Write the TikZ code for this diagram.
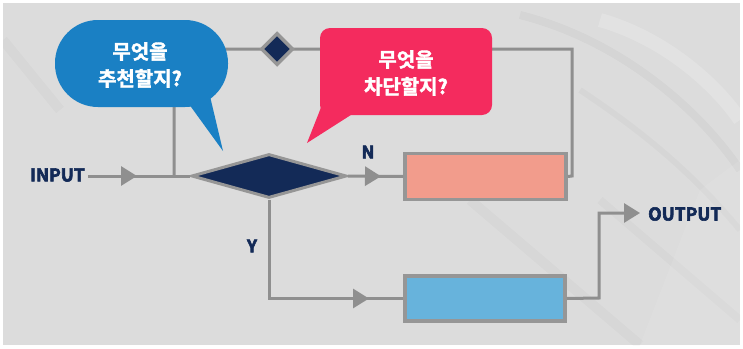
\documentclass[tikz,border=0pt]{standalone}
\usepackage{fontspec}
\setmainfont{Noto Sans CJK KR}[BoldFont={Noto Sans CJK KR Bold}]
\newfontfamily\heavy{Noto Sans CJK KR Bold}
\newfontfamily\bub{Noto Sans CJK KR Bold}
\newcommand\fatten[2]{\special{pdf:literal 2 Tr #1 w}#2\special{pdf:literal 0 Tr 1 w}}
\usetikzlibrary{shapes.geometric,arrows.meta,decorations.markings}
\definecolor{bg}{HTML}{DCDCDC}
\definecolor{navy}{HTML}{132A57}
\definecolor{lgray}{HTML}{8F8F8F}
\definecolor{bgray}{HTML}{969696}
\definecolor{salmon}{HTML}{F29C8C}
\definecolor{sky}{HTML}{67B3DC}
\definecolor{bblue}{HTML}{1A80C4}
\definecolor{bpink}{HTML}{F42B5E}
\tikzset{
  lab/.style={font=\heavy\fontsize{17.5}{18}\selectfont, text=navy, inner sep=0pt},
  yn/.style={font=\heavy\fontsize{17}{18}\selectfont, text=navy, inner sep=0pt},
  flow/.style={draw=lgray, line width=3pt},
  tipstyle/.style={-{Triangle[length=16pt,width=19pt]}},
  midarrow/.style={postaction={decorate},
    decoration={markings, mark=at position #1 with {\arrow[lgray]{Triangle[length=16pt,width=19pt]}}}},
  maindia/.style={diamond, draw=bgray, fill=navy, line width=3pt, inner sep=0pt,
    minimum width=155pt, minimum height=44pt, aspect=3.5},
  smalldia/.style={diamond, draw=bgray, fill=navy, line width=3.5pt, inner sep=0pt,
    minimum width=32pt, minimum height=32pt},
  boxstyle/.style={draw=bgray, line width=3.5pt, inner sep=0pt},
  bubtext/.style={font=\bub\fontsize{20}{27}\selectfont, text=white, align=center, inner sep=0pt}
}
\begin{document}
\begin{tikzpicture}[x=1pt,y=-1pt]
\useasboundingbox (0,0) rectangle (743,348);
\fill[white] (0,0) rectangle (743,348);
\fill[bg] (3,3) rectangle (740,345);
% subtle streaks
\begin{scope}
\clip (3,3) rectangle (740,345);
\draw[black, opacity=0.03, line width=8pt] (520,15) .. controls (620,40) and (700,110) .. (740,170);
\draw[black, opacity=0.025, line width=6pt] (580,90) .. controls (640,130) and (690,170) .. (740,230);
\draw[white, opacity=0.18, line width=14pt] (600,20) .. controls (670,40) and (720,90) .. (740,120);
\draw[black, opacity=0.02, line width=10pt] (470,200) -- (640,345);
\draw[black, opacity=0.02, line width=8pt] (600,200) -- (740,320);
\fill[white, opacity=0.08] (700,190) -- (740,160) -- (740,345) -- (640,345) -- cycle;
\draw[black, opacity=0.02, line width=10pt] (3,40) -- (60,110);
\end{scope}

% nodes
\node[lab, anchor=west] (in) at (30,175) {\fatten{0.6}{INPUT}};
\node[maindia] (d) at (269,176) {};
\node[boxstyle, fill=salmon, minimum width=161pt, minimum height=46pt] (pb) at (485.5,176.5) {};
\node[boxstyle, fill=sky, minimum width=160pt, minimum height=45pt] (bb) at (485,298.5) {};
\node[lab, anchor=west] (out) at (648,214) {\fatten{0.6}{OUTPUT}};
\node[yn] (nlab) at (368,152) {\fatten{0.6}{N}};
\node[yn] (ylab) at (252,246) {\fatten{0.6}{Y}};

\coordinate (j) at (174,176);
\coordinate (lt) at (174,49);
\coordinate (rt) at (572,49);
\coordinate (rb) at (572,176);
\coordinate (ob) at (599,298);
\coordinate (ot) at (599,213);
\coordinate (otip) at (640,213);

% connectors
\draw[flow, midarrow=49pt] (88,176) -- (d.west);
\draw[flow, midarrow=33pt] (d.east) -- (pb.west);
\draw[flow, midarrow=199pt] (d.south) |- (bb.west);
\draw[flow] (pb.east) -- (rb) -- (rt) -- (lt) -- (j);
\draw[flow, tipstyle, lgray] (bb.east) -- (ob) -- (ot) -- (otip);

\node[smalldia] (sd) at (277,49) {};

% blue bubble
\fill[bblue, rounded corners=43pt] (55,20) rectangle (228,107);
\fill[bblue] (186,100) -- (223,151) -- (209,92) -- cycle;
\node[bubtext] (q1) at (140,65) {\fatten{0.4}{무엇을}\\\fatten{0.4}{추천할지?}};

% pink bubble
\fill[bpink, rounded corners=10pt] (320,28) rectangle (492,115);
\fill[bpink] (322,105) -- (307,143) -- (354,113) -- cycle;
\node[bubtext] (q2) at (406,73) {\fatten{0.4}{무엇을}\\\fatten{0.4}{차단할지?}};
\end{tikzpicture}
\end{document}
